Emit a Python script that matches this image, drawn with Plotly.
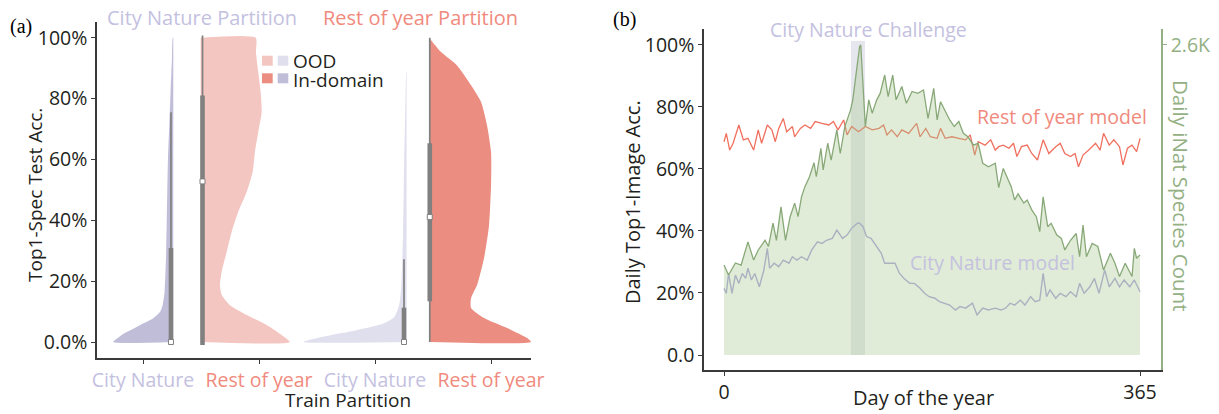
import plotly.graph_objects as go

W, H = 1219, 414

# ---------------- data : panel (a) ----------------
partitions = ["City Nature Partition", "Rest of year Partition"]
train_labels = ["City Nature", "Rest of year", "City Nature", "Rest of year"]
legend_labels = ["OOD", "In-domain"]
acc_ticks = [0, 20, 40, 60, 80, 100]
acc_ticktext = ["0.0%", "20%", "40%", "60%", "80%", "100%"]

# half-violin density profiles (accuracy %, relative density)
cn_in_acc = [0, 1.2, 2.3, 4, 5.6, 7.8, 10, 12.2, 16.5, 27.6, 38.4, 49.3, 60.4, 71, 82, 93, 100]
cn_in_den = [60, 56, 51.6, 42, 33, 20, 13, 10.6, 8.7, 7.3, 6.6, 6, 5.3, 4, 2.7, 1.3, 0.5]
roy_ood_acc = [0, 2.3, 5.6, 8.9, 12.2, 15.5, 18.7, 23, 29.6, 36.2, 42.8, 49.3, 55.9, 62.5, 69, 75.6, 82.2, 88.7, 95.3, 100]
roy_ood_den = [89, 81, 66, 46, 29, 21, 19.3, 21, 26, 31, 37.6, 46, 52, 54.3, 57.6, 61, 60, 57.6, 55.3, 55]
cn_ood_acc = [0, 1.7, 3.9, 6.1, 8.3, 12.7, 20.3, 36.8, 58.7, 69.6, 80, 88.8]
cn_ood_den = [103, 84, 50, 23, 12, 7, 5, 3.4, 2.4, 1.7, 1, 0.2]
roy_in_acc = [0, 1.3, 4.6, 7.9, 11.2, 14.4, 18.7, 27.6, 38.4, 51.5, 62.4, 71.2, 78.9, 84.4, 90.9, 95.3, 100]
roy_in_den = [102, 98, 78, 55, 42, 42, 48, 55, 60, 62, 62, 58, 52, 42, 28, 12, 0]

# box statistics: lowerfence, q1, median, q3, upperfence
cn_in_box = [0, 0, 0, 30.9, 75.5]
roy_ood_box = [-1, -1, 52.8, 81, 100.8]
cn_ood_box = [0, 0, 0, 11.3, 27.2]
roy_in_box = [0, 13.4, 41.1, 65.3, 100]

# ---------------- data : panel (b) ----------------
cnc_days = [111.4, 123.7]
day_ticks = [0, 365]

species_days = [0, 4, 10, 15, 21, 26, 30, 36, 39, 43, 46, 50, 54, 58, 62, 65, 68, 71, 75, 79, 81, 85, 87, 91,
                94, 99, 102, 106, 111, 113, 116, 119, 120, 122, 124, 127, 130, 134, 137, 141, 144, 148, 151,
                156, 160, 165, 170, 175, 179, 184, 187, 190, 194, 198, 202, 206, 210, 214, 219, 223, 227, 232,
                238, 241, 245, 249, 252, 255, 258, 263, 266, 270, 274, 277, 280, 284, 287, 292, 296, 299, 304,
                309, 312, 315, 318, 323, 328, 333, 339, 343, 347, 352, 358, 360, 362, 365]
species_count = [754, 671, 772, 754, 949, 796, 881, 962, 910, 1105, 962, 1243, 962, 1160, 1274, 1160, 1326, 1412,
                 1495, 1612, 1495, 1734, 1552, 1776, 1635, 1888, 1690, 1916, 2054, 2140, 2366, 2587, 2600, 2306,
                 1916, 2140, 2028, 2140, 2194, 2348, 2166, 2348, 2140, 2252, 2111, 2210, 2194, 2223, 1984, 2236,
                 1971, 2124, 2054, 1971, 1916, 1958, 1859, 1830, 1760, 1776, 1607, 1578, 1609, 1404, 1565, 1469,
                 1412, 1300, 1352, 1274, 1300, 1217, 1160, 1035, 1326, 1076, 1105, 1006, 978, 881, 962, 1019,
                 824, 1089, 824, 936, 910, 712, 853, 770, 658, 770, 658, 894, 811, 840]

roy_days = [0, 2, 5, 8, 13, 17, 21, 26, 30, 33, 38, 42, 45, 48, 52, 55, 60, 62, 67, 71, 76, 80, 86, 92, 96, 100,
            105, 108, 112, 118, 120, 124, 130, 136, 140, 143, 147, 152, 156, 162, 169, 172, 177, 181, 187, 190,
            194, 200, 206, 212, 216, 220, 223, 229, 234, 238, 241, 245, 250, 254, 257, 261, 266, 270, 275, 280,
            285, 291, 295, 299, 304, 308, 311, 315, 320, 326, 330, 333, 338, 342, 347, 350, 354, 358, 362, 365]
roy_acc = [68.8, 71.5, 66.1, 68.3, 74.2, 69.4, 69.9, 66.1, 72.6, 68.3, 74.2, 72.6, 68.8, 73.1, 76.3, 72, 73.7,
           70.4, 73.1, 74.2, 73.1, 75.3, 74.7, 74.2, 75.3, 72.6, 75.8, 71, 73.7, 72, 72.6, 73.7, 72.6, 73.1, 74.2,
           71, 72.6, 70.4, 72.6, 71.5, 74.7, 70.4, 73.1, 70.4, 69.9, 73.1, 69.9, 70.4, 69.9, 69.4, 71, 64.5, 68.8,
           67.7, 69.4, 66.1, 67.2, 67.7, 66.7, 68.3, 64, 67.2, 67.7, 65, 62.9, 69.4, 65, 67.2, 68.3, 65, 64, 65,
           60.7, 64.5, 66.1, 68.3, 66.1, 71.5, 67.7, 69.4, 67.2, 61.3, 66.7, 67.7, 65.6, 69.9]

cn_days = [0, 2, 4, 7, 10, 13, 16, 19, 21, 24, 27, 31, 35, 38, 40, 44, 48, 52, 57, 60, 64, 68, 73, 77, 82, 86,
           90, 95, 99, 104, 108, 112, 117, 119, 122, 125, 129, 134, 138, 141, 145, 150, 154, 158, 163, 167, 172,
           176, 180, 185, 189, 194, 198, 203, 207, 212, 218, 222, 227, 232, 238, 243, 247, 251, 255, 260, 264,
           269, 273, 277, 280, 283, 286, 291, 295, 300, 304, 309, 312, 316, 321, 325, 329, 334, 338, 343, 347,
           351, 356, 360, 365]
cn_acc = [21.5, 19.9, 26.3, 19.9, 25.8, 23.1, 26.3, 24.7, 28, 24.2, 26.3, 22, 27.4, 34.4, 28, 29.6, 28.5, 30.6,
          29.6, 31.7, 30.6, 31.7, 30.6, 33.9, 36.5, 36, 37, 37.6, 40.3, 37.6, 38.7, 40.9, 42.5, 42.5, 41.4, 38.2,
          37.6, 35, 32.8, 29.6, 29.6, 29.6, 26.3, 24.7, 23.1, 23.1, 21.5, 19.9, 18.8, 18.3, 17.2, 16.7, 16.1, 14.5,
          15.6, 15.1, 16.7, 12.9, 15.1, 14.5, 15.1, 14.5, 15.1, 16.7, 16.1, 17.7, 16.1, 18.8, 17.2, 17.7, 26.3,
          18.8, 21, 18.3, 19.9, 18.8, 20.4, 18.8, 23.1, 19.9, 22, 24.7, 19.9, 27.4, 22, 24.7, 22, 24.2, 22, 24.2,
          20.4]
acc_ticktext_b = ["0.0", "20%", "40%", "60%", "80%", "100%"]
count_tick = [2600]
count_ticktext = ["2.6K"]

# ---------------- styles ----------------
FONT = "Open Sans"
DARK = "#231f20"
LAV_DARK = "#c0bdd9"
LAV_LIGHT = "#e0dfed"
PINK_LIGHT = "#f4c6c1"
SALMON = "#eb8d81"
LAV_TEXT = "#c4c1df"
SALMON_TEXT = "#f08a7d"
BOX_GREY = "#808080"
GREEN_LINE = "#88a878"
GREEN_AXIS = "#93b083"
RED_LINE = "#f0705f"
LAV_LINE = "#aca6de"
TICK_SIZE = 19.5

PX_PER_UNIT = 116.0     # px per category unit on panel (a)
DEN_SCALE = 1.0 / PX_PER_UNIT


def px(x):
    return x / W


def py(y):
    return 1 - y / H


fig = go.Figure()

# ---- panel (a): half violins ----
violins = [
    (cn_in_acc, cn_in_den, 0.261, -1, LAV_DARK),
    (roy_ood_acc, roy_ood_den, 0.497, 1, PINK_LIGHT),
    (cn_ood_acc, cn_ood_den, 2.272, -1, LAV_LIGHT),
    (roy_in_acc, roy_in_den, 2.466, 1, SALMON),
]
for acc, den, edge, side, col in violins:
    xs = [edge + side * d * DEN_SCALE for d in den]
    xs = [edge] + xs + [edge]
    ys = [acc[0]] + acc + [acc[-1]]
    fig.add_trace(go.Scatter(x=xs, y=ys, mode="lines", fill="toself", fillcolor=col,
                             line=dict(width=0, color=col, shape="spline", smoothing=0.6),
                             hoverinfo="skip", showlegend=False, xaxis="x", yaxis="y"))

# box plots (whisker + inter-quartile bar + median marker)
boxes = [(cn_in_box, 0.241), (roy_ood_box, 0.513), (cn_ood_box, 2.250), (roy_in_box, 2.472)]
for st, pos in boxes:
    fig.add_trace(go.Scatter(x=[pos, pos], y=[st[0], st[4]], mode="lines",
                             line=dict(color=BOX_GREY, width=1.7),
                             showlegend=False, hoverinfo="skip", xaxis="x", yaxis="y"))
    fig.add_trace(go.Scatter(x=[pos, pos], y=[st[1], st[3]], mode="lines",
                             line=dict(color=BOX_GREY, width=4.6),
                             showlegend=False, hoverinfo="skip", xaxis="x", yaxis="y"))
    fig.add_trace(go.Scatter(x=[pos], y=[st[2]], mode="markers",
                             marker=dict(symbol="square", size=5, color="white",
                                         line=dict(color=BOX_GREY, width=1)),
                             showlegend=False, hoverinfo="skip", xaxis="x", yaxis="y"))

# ---- panel (b) ----
fig.add_trace(go.Scatter(x=species_days, y=species_count, mode="lines", fill="tozeroy",
                         fillcolor="rgba(165,200,140,0.35)", line=dict(color=GREEN_LINE, width=1.3),
                         showlegend=False, hoverinfo="skip", xaxis="x2", yaxis="y3"))
fig.add_trace(go.Scatter(x=roy_days, y=roy_acc, mode="lines", line=dict(color=RED_LINE, width=1.3),
                         showlegend=False, hoverinfo="skip", xaxis="x2", yaxis="y2"))
fig.add_trace(go.Scatter(x=cn_days, y=cn_acc, mode="lines", line=dict(color=LAV_LINE, width=1.4),
                         showlegend=False, hoverinfo="skip", xaxis="x2", yaxis="y2"))

# CNC band
fig.add_shape(type="rect", xref="x2", yref="y2", x0=cnc_days[0], x1=cnc_days[1], y0=0, y1=101.3,
              fillcolor="rgba(200,200,220,0.45)", line=dict(width=0), layer="below")

axis_common = dict(showgrid=False, zeroline=False, showline=True, linewidth=1.5, linecolor="#3a3a3a",
                   ticks="outside", ticklen=4, tickwidth=1.2, tickcolor="#3a3a3a",
                   tickfont=dict(family=FONT, size=TICK_SIZE, color=DARK), automargin=False,
                   fixedrange=True)

ticktext_a = []
for i, lab in enumerate(train_labels):
    c = LAV_TEXT if i % 2 == 0 else SALMON_TEXT
    ticktext_a.append(f"<span style='color:{c}'>{lab}</span>")

fig.update_layout(
    width=W, height=H, margin=dict(l=0, r=0, t=0, b=0),
    paper_bgcolor="white", plot_bgcolor="rgba(0,0,0,0)",
    font=dict(family=FONT, size=18, color=DARK),
    xaxis=dict(domain=[px(97), px(531)], range=[-0.3966, 3.3448], tickvals=[0, 1, 2, 3],
               ticktext=ticktext_a, anchor="y", **axis_common),
    yaxis=dict(domain=[py(358), py(21.7)], range=[-5.26, 105.3], tickvals=acc_ticks,
               ticktext=acc_ticktext, anchor="x", **axis_common),
    xaxis2=dict(domain=[px(704), px(1161)], range=[-17.55, 383.4], tickvals=day_ticks,
                ticktext=[str(d) for d in day_ticks], anchor="y2", **axis_common),
    yaxis2=dict(domain=[py(370), py(29.3)], range=[-4.84, 105.06], tickvals=acc_ticks,
                ticktext=acc_ticktext_b, anchor="x2", **axis_common),
    yaxis3=dict(overlaying="y2", side="right", anchor="x2", range=[-4.84 * 26, 105.06 * 26],
                tickvals=count_tick, ticktext=count_ticktext, showgrid=False, zeroline=False,
                showline=True, linewidth=1.5, linecolor=GREEN_AXIS, ticks="outside", ticklen=4,
                tickcolor=GREEN_AXIS, tickfont=dict(family=FONT, size=TICK_SIZE, color=GREEN_AXIS),
                automargin=False, fixedrange=True),
)

# legend swatches
for (x0, x1, y0, y1, col) in [(262, 272.7, 55.7, 65.7, PINK_LIGHT), (277.7, 288.3, 55.7, 65.7, LAV_LIGHT),
                              (262, 272.7, 73.3, 83.3, SALMON), (277.7, 288.3, 73.3, 83.3, LAV_DARK)]:
    fig.add_shape(type="rect", xref="paper", yref="paper", x0=px(x0), x1=px(x1), y0=py(y1), y1=py(y0),
                  fillcolor=col, line=dict(width=0))


def ann(text, x, y, size=18, color=DARK, angle=0, xanchor="center", family=FONT):
    fig.add_annotation(text=text, x=px(x), y=py(y), xref="paper", yref="paper", showarrow=False,
                       xanchor=xanchor, yanchor="middle", textangle=angle,
                       font=dict(family=family, size=size, color=color))


ann(legend_labels[0], 291, 61, size=19, xanchor="left")
ann(legend_labels[1], 291, 80, size=19, xanchor="left")
ann("(a)", 21, 27, size=20, family="Liberation Serif", color="#000")
ann("(b)", 624, 20, size=20, family="Liberation Serif", color="#000")
ann(partitions[0], 202, 18, size=20, color=LAV_TEXT)
ann(partitions[1], 420, 18, size=20, color=SALMON_TEXT)
ann("Top1-Spec Test Acc.", 35, 195, size=19, angle=-90)
ann("Train Partition", 348, 400, size=19)
ann("City Nature Challenge", 868, 29.5, size=19.5, color=LAV_TEXT)
ann("Rest of year model", 1062, 116, size=19.5, color=SALMON_TEXT)
ann("City Nature model", 992, 262.5, size=19.5, color=LAV_TEXT)
ann("Daily Top1-Image Acc.", 633, 202, size=20, angle=-90)
ann("Day of the year", 924, 397, size=20)
ann("Daily iNat Species Count", 1181, 195, size=20.5, color=GREEN_AXIS, angle=90)

fig.write_html("out.html", config={"displayModeBar": False},
               post_script="document.body.style.margin='0';document.body.style.overflow='hidden';")
